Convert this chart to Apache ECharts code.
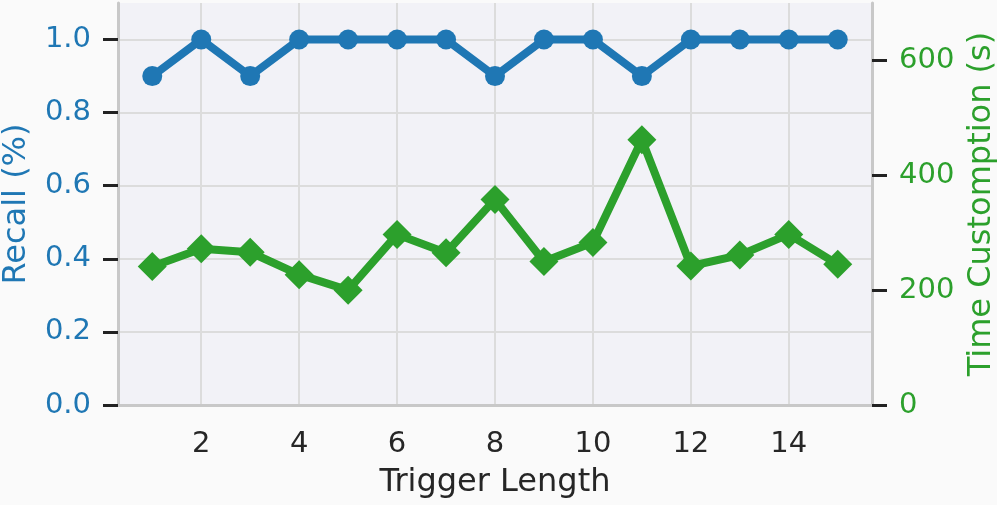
<!DOCTYPE html>
<html>
<head>
<meta charset="utf-8">
<script src="https://cdn.jsdelivr.net/npm/echarts@6/dist/echarts.min.js"></script>
<style>
  html, body { margin: 0; padding: 0; background: #fafafa; }
  #chart { width: 997px; height: 505px; }
</style>
</head>
<body>
<div id="chart"></div>
<script>
var triggerLength = [1, 2, 3, 4, 5, 6, 7, 8, 9, 10, 11, 12, 13, 14, 15];
var recall = [0.9, 1.0, 0.9, 1.0, 1.0, 1.0, 1.0, 0.9, 1.0, 1.0, 0.9, 1.0, 1.0, 1.0, 1.0];
var timeCost = [241, 272, 266, 227, 200, 297, 265, 358, 250, 283, 462, 242, 261, 297, 245];
var xTicks = [2, 4, 6, 8, 10, 12, 14];
var recallTicks = [0, 0.2, 0.4, 0.6, 0.8, 1.0];
var timeTicks = [0, 200, 400, 600];

var blue = "#1f77b4";
var green = "#2ca02c";
var font = "DejaVu Sans";

var chart = echarts.init(document.getElementById("chart"));

function pairs(xs, ys) {
  return xs.map(function (x, i) {
    return [x, ys[i]];
  });
}

var option = {
  backgroundColor: "#fafafa",
  animation: false,
  grid: {
    left: 118,
    right: 125,
    top: 3,
    bottom: 100,
    outerBoundsMode: "none",
    containLabel: false,
    show: true,
    backgroundColor: "#f2f2f7",
    borderWidth: 0
  },
  xAxis: {
    type: "value",
    min: 0.3,
    max: 15.7,
    name: "Trigger Length",
    nameLocation: "middle",
    nameGap: 62,
    nameTextStyle: { color: "#262626", fontSize: 32, fontFamily: font },
    axisLine: { show: true, lineStyle: { color: "#c8c8c8", width: 3 } },
    axisTick: { show: false, customValues: xTicks },
    axisLabel: {
      customValues: xTicks,
      color: "#262626",
      fontSize: 29,
      fontFamily: font,
      margin: 25
    },
    splitLine: { show: true, lineStyle: { color: "#dcdcdc", width: 2 } }
  },
  yAxis: [
    {
      type: "value",
      min: 0,
      max: 1.1,
      position: "left",
      name: "Recall (%)",
      nameLocation: "middle",
      nameGap: 85,
      nameTextStyle: { color: blue, fontSize: 32, fontFamily: font },
      axisLine: { show: true, lineStyle: { color: "#c8c8c8", width: 3 } },
      axisTick: {
        show: true,
        customValues: recallTicks,
        length: 15,
        lineStyle: { color: "#222222", width: 3 }
      },
      axisLabel: {
        customValues: recallTicks,
        color: blue,
        fontSize: 29,
        fontFamily: font,
        margin: 27,
        formatter: function (v) { return v.toFixed(1); }
      },
      splitLine: { show: true, lineStyle: { color: "#dcdcdc", width: 2 } }
    },
    {
      type: "value",
      min: 0,
      max: 700,
      position: "right",
      name: "Time Customption (s)",
      nameLocation: "middle",
      nameGap: 94,
      nameTextStyle: { color: green, fontSize: 32, fontFamily: font },
      axisLine: { show: true, lineStyle: { color: "#c8c8c8", width: 3 } },
      axisTick: {
        show: true,
        customValues: timeTicks,
        length: 15,
        lineStyle: { color: "#222222", width: 3 }
      },
      axisLabel: {
        customValues: timeTicks,
        color: green,
        fontSize: 29,
        fontFamily: font,
        margin: 27
      },
      splitLine: { show: false }
    }
  ],
  series: [
    {
      name: "Recall",
      type: "line",
      yAxisIndex: 0,
      data: pairs(triggerLength, recall),
      symbol: "circle",
      symbolSize: 20,
      lineStyle: { color: blue, width: 8 },
      itemStyle: { color: blue },
      z: 3
    },
    {
      name: "Time",
      type: "line",
      yAxisIndex: 1,
      data: pairs(triggerLength, timeCost),
      symbol: "diamond",
      symbolSize: 29,
      lineStyle: { color: green, width: 8 },
      itemStyle: { color: green },
      z: 3
    }
  ]
};

chart.setOption(option);
window.addEventListener("resize", function () {
  chart.resize();
});
</script>
</body>
</html>
